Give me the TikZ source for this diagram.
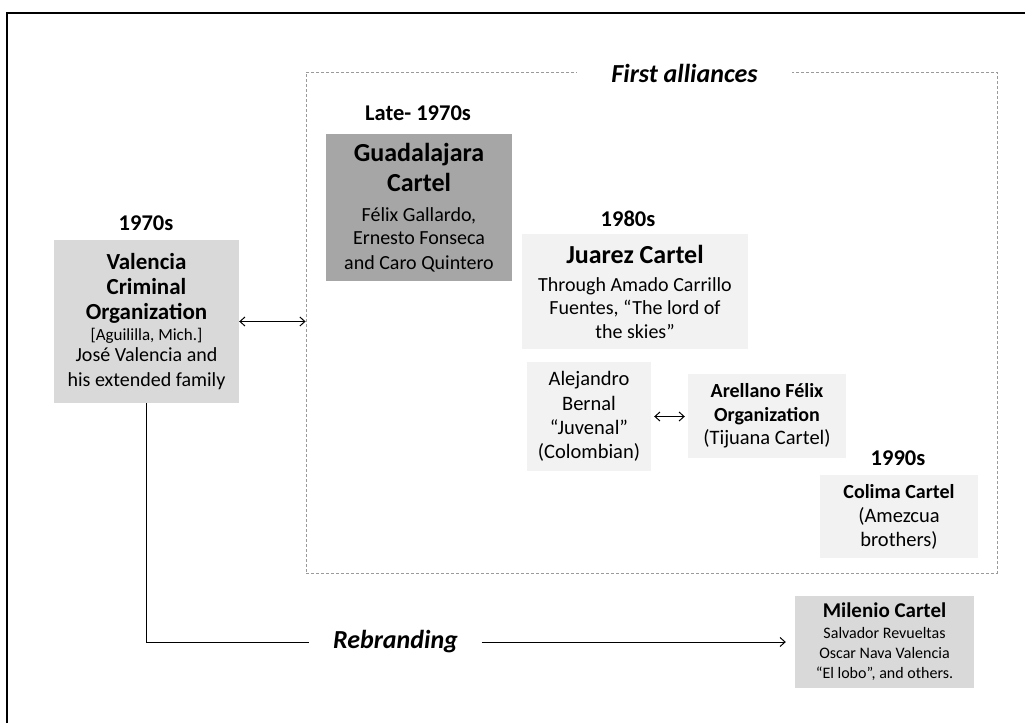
\documentclass[tikz,border=0pt]{standalone}
\usepackage{fontspec}
\setmainfont{Carlito}
\usetikzlibrary{arrows.meta}
\definecolor{boxa}{HTML}{D9D9D9}
\definecolor{boxb}{HTML}{A6A6A6}
\definecolor{boxc}{HTML}{F2F2F2}
\definecolor{dashgray}{HTML}{9A9A9A}
% line font switches
\newcommand{\vA}{\fontsize{23}{25}\selectfont\bfseries}
\newcommand{\vB}{\fontsize{17}{21}\selectfont\mdseries}
\newcommand{\vC}{\fontsize{20}{22.5}\selectfont\mdseries}
\newcommand{\gA}{\fontsize{26}{30}\selectfont\bfseries}
\newcommand{\gB}{\fontsize{20}{24}\selectfont\mdseries}
\newcommand{\jA}{\fontsize{26}{28}\selectfont\bfseries}
\newcommand{\jB}{\fontsize{20}{23.5}\selectfont\mdseries}
\newcommand{\sA}{\fontsize{20}{24.5}\selectfont\bfseries}
\newcommand{\sB}{\fontsize{20.5}{24.5}\selectfont\mdseries}
\newcommand{\mA}{\fontsize{21}{22}\selectfont\bfseries}
\newcommand{\mB}{\fontsize{16}{20}\selectfont\mdseries}
\tikzset{
  cbox/.style={align=center, inner sep=0pt, text=black},
  yearlbl/.style={font=\fontsize{22.5}{26}\selectfont\bfseries},
  conn/.style={line width=1pt, black},
  tip/.style={{Straight Barb[length=5pt,width=9pt]}-{Straight Barb[length=5pt,width=9pt]}},
  tipr/.style={-{Straight Barb[length=5pt,width=9pt]}},
}
\begin{document}
\begin{tikzpicture}[x=1pt,y=-1pt]
\useasboundingbox (0,0) rectangle (1025,723);
% outer frame (top and left visible)
\draw[line width=2pt] (7,723) -- (7,13) -- (1025,13);

% dashed group box
\node[draw=dashgray, line width=0.8pt, dash pattern=on 3pt off 2pt, minimum width=691pt, minimum height=501pt, inner sep=0pt] (fa) at (651.5,322.5) {};
\node[fill=white, minimum width=215pt, minimum height=20pt, inner sep=0pt, font=\fontsize{26}{30}\selectfont\bfseries\itshape] (falbl) at (684.5,73) {First alliances};

% year labels
\node[yearlbl] (y70) at (146,223) {1970s};
\node[yearlbl] (ylate) at (418,113) {Late- 1970s};
\node[yearlbl] (y80) at (628,219) {1980s};
\node[yearlbl] (y90) at (898,458) {1990s};

% boxes
\node[cbox, fill=boxa, minimum width=185pt, minimum height=163pt, font=\fontsize{20}{20.5}\selectfont] (val) at (146.5,321.5)
 {\vA Valencia\\[4.5pt]\vA Criminal\\[4.5pt]\vA Organization\\[0.5pt]\vB [Aguililla, Mich.]\\\vC José Valencia and\\[4.5pt]\vC his extended family};

\node[cbox, fill=boxb, minimum width=186pt, minimum height=147pt, font=\fontsize{20}{24}\selectfont] (gua) at (419,207.5)
 {\gA Guadalajara\\[6pt]\gA Cartel\\[6pt]\gB Félix Gallardo,\\[-1pt]\gB Ernesto Fonseca\\[1pt]\gB and Caro Quintero};

\node[cbox, fill=boxc, minimum width=226pt, minimum height=115pt, font=\fontsize{20}{23.5}\selectfont] (jua) at (635,291.5)
 {\jA Juarez Cartel\\[4.5pt]\jB Through Amado Carrillo\\\jB Fuentes, “The lord of\\\jB the skies”};

\node[cbox, fill=boxc, minimum width=124pt, minimum height=109pt, font=\fontsize{20}{24.3}\selectfont] (ale) at (589,416.5)
 {\sB Alejandro\\\sB Bernal\\\sB “Juvenal”\\\sB (Colombian)};

\node[cbox, fill=boxc, minimum width=158pt, minimum height=84pt, font=\fontsize{20}{23.5}\selectfont] (are) at (767,416)
 {\sA Arellano Félix\\\sA Organization\\\sB (Tijuana Cartel)};

\node[cbox, fill=boxc, minimum width=158pt, minimum height=83pt, font=\fontsize{20}{24}\selectfont] (col) at (899,516.5)
 {\sA Colima Cartel\\\sB (Amezcua\\\sB brothers)};

\node[cbox, fill=boxa, minimum width=179pt, minimum height=92pt, font=\fontsize{16}{20}\selectfont] (mil) at (884.5,642)
 {\mA Milenio Cartel\\[1pt]\mB Salvador Revueltas\\\mB Oscar Nava Valencia\\\mB “El lobo”, and others.};

% rebranding label
\node[fill=white, minimum width=172pt, minimum height=20pt, inner sep=0pt, font=\fontsize{26}{30}\selectfont\bfseries\itshape] (rb) at (395.5,642) {Rebranding};

% connectors
\draw[conn, tip] (val.east) -- (val.east -| fa.west);
\draw[conn, tip, shorten <=3pt, shorten >=3pt] (ale.east) -- (ale.east -| are.west);
\draw[conn] (val.south) |- (rb.west);
\draw[conn, tipr] (rb.east) -- ([xshift=-9pt]mil.west);
\end{tikzpicture}
\end{document}
